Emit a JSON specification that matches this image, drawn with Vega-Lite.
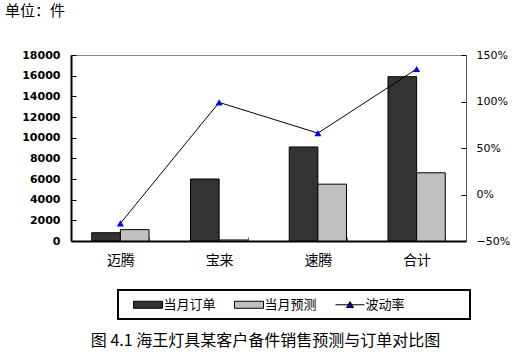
{
  "$schema": "https://vega.github.io/schema/vega-lite/v6.json",
  "width": 395,
  "height": 186,
  "autosize": "none",
  "padding": {"left": 71, "top": 55, "right": 64, "bottom": 113},
  "background": "white",
  "config": {"view": {"stroke": "#888888", "strokeWidth": 1}, "font": "DejaVu Sans"},
  "title": {"text": "单位：件", "anchor": "start", "frame": "group", "dx": -66, "offset": 30, "font": "Noto Sans CJK SC", "fontSize": 15, "fontWeight": "normal", "color": "#000000"},
  "data": {"values": [
    {"类别": "迈腾", "当月订单": 800, "当月预测": 1100, "波动率": -0.31},
    {"类别": "宝来", "当月订单": 6000, "当月预测": 100, "波动率": 0.99},
    {"类别": "速腾", "当月订单": 9100, "当月预测": 5500, "波动率": 0.66},
    {"类别": "合计", "当月订单": 15900, "当月预测": 6600, "波动率": 1.35}
  ]},
  "encoding": {
    "x": {
      "field": "类别", "type": "nominal", "sort": ["迈腾", "宝来", "速腾", "合计"],
      "scale": {"paddingInner": 0.42, "paddingOuter": 0.21},
      "title": "图 4.1  海王灯具某客户备件销售预测与订单对比图",
      "axis": {
        "orient": "bottom", "domainColor": "#000000", "domainWidth": 2,
        "tickBand": "extent", "tickSize": -4, "tickColor": "#666666",
        "labelFont": "Noto Sans CJK SC", "labelFontSize": 14, "labelColor": "#000000", "labelPadding": 16, "labelAngle": 0,
        "titleFont": "Noto Sans CJK SC", "titleFontSize": 16, "titleFontWeight": "normal", "titleColor": "#000000",
        "titleY": 99, "titleX": 194, "titleAlign": "center", "titleBaseline": "middle"
      }
    }
  },
  "layer": [
    {
      "transform": [{"fold": ["当月订单", "当月预测"], "as": ["系列", "数量"]}],
      "mark": {"type": "bar", "stroke": "#000000", "strokeWidth": 1},
      "encoding": {
        "xOffset": {"field": "系列", "type": "nominal", "sort": ["当月订单", "当月预测"], "scale": {"paddingInner": 0}},
        "y": {
          "field": "数量", "type": "quantitative", "scale": {"domain": [0, 18000]},
          "axis": {
            "values": [0, 2000, 4000, 6000, 8000, 10000, 12000, 14000, 16000, 18000], "format": "d",
            "grid": false, "domainColor": "#000000", "domainWidth": 2, "tickColor": "#000000", "tickSize": -5,
            "labelFont": "DejaVu Sans", "labelFontWeight": "bold", "labelFontSize": 11, "labelColor": "#000000",
            "labelPadding": 16, "title": null
          }
        },
        "fill": {
          "field": "系列", "type": "nominal",
          "scale": {"domain": ["当月订单", "当月预测", "波动率"], "range": ["#333333", "#c0c0c0", "#0000ff"]},
          "legend": {
            "orient": "none", "legendX": 47, "legendY": 235, "direction": "horizontal", "title": null,
            "strokeColor": "#000000", "padding": 7,
            "symbolSize": 196, "symbolOffset": 15.5, "labelOffset": 8, "columnPadding": 10,
            "labelFont": "Noto Sans CJK SC", "labelFontSize": 13, "labelColor": "#000000",
            "symbolStrokeColor": "#000000", "symbolStrokeWidth": 1, "symbolOpacity": 1,
            "symbolType": "M-2.07,-0.5H2.07V0.5H-2.07Z",
            "encode": {
              "legend": {"update": {"strokeWidth": {"value": 2}}},
              "symbols": {"update": {"shape": {"signal": "datum.value == '波动率' ? 'M-2.07,0H2.07M-0.5,0.4L0,-0.45L0.5,0.4ZM15.8,0' : 'M-2.07,-0.5H2.07V0.5H-2.07Z'"}}}
            }
          }
        }
      }
    },
    {
      "encoding": {
        "y": {
          "field": "波动率", "type": "quantitative", "scale": {"domain": [-0.5, 1.5]},
          "axis": {
            "orient": "right", "values": [-0.5, 0, 0.5, 1, 1.5], "format": ".0%",
            "grid": false, "domainColor": "#555555", "domainWidth": 1, "tickColor": "#000000", "tickSize": -5,
            "labelFont": "DejaVu Sans", "labelFontSize": 11, "labelColor": "#000000", "labelPadding": 15, "title": null
          }
        }
      },
      "layer": [
        {"mark": {"type": "line", "color": "#000000", "strokeWidth": 1}},
        {"mark": {"type": "point", "shape": "triangle-up", "filled": true, "size": 50, "opacity": 1}, "encoding": {"fill": {"datum": "波动率"}}}
      ]
    }
  ],
  "resolve": {"scale": {"y": "independent"}}
}
